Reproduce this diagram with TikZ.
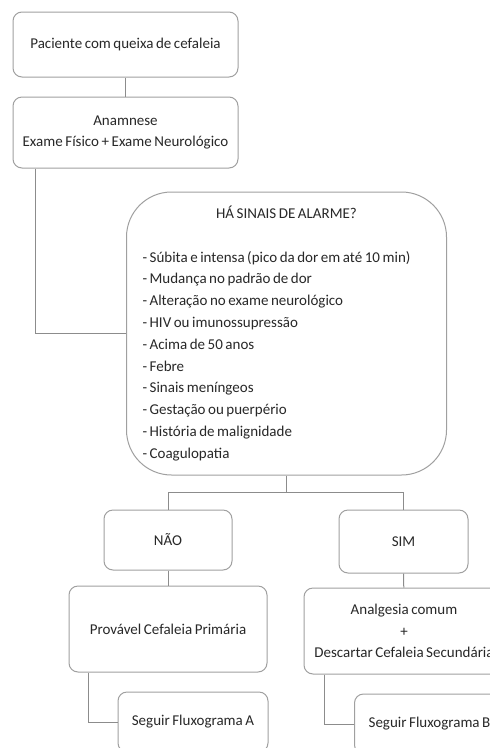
\documentclass[tikz,border=0pt]{standalone}
\usepackage{fontspec}
\setmainfont{Carlito}[WordSpace=0.75]
\usepackage{xcolor}
\usepackage{tikz}
\usetikzlibrary{positioning}
\definecolor{linegray}{RGB}{140,140,140}
\definecolor{boxgray}{RGB}{160,160,160}
\definecolor{textgray}{RGB}{40,40,40}

\begin{document}
\begin{tikzpicture}[
  x=1pt, y=-1pt,
  box/.style={rectangle, rounded corners=9pt, draw=boxgray, fill=white, line width=1pt,
              align=center, inner sep=0pt, text=textgray,
              font=\fontsize{15}{21.8}\selectfont},
  line/.style={draw=linegray, line width=1pt}
]
\clip (0,0) rectangle (490,748);

\node[box, minimum width=225pt, minimum height=65pt] (pac) at (125.5,44.5) {Paciente com queixa de cefaleia};

\node[box, minimum width=225pt, minimum height=71pt] (anam) at (125.5,132.5) {Anamnese\\Exame Físico + Exame Neurológico};

% lista de sinais de alarme
\node[box, rounded corners=45pt, minimum width=320pt, minimum height=283pt,
      text width=288pt, align=left] (alarme) at (286.5,333.5)
  {\spaceskip=0pt \xspaceskip=0pt
   \makebox[\linewidth]{HÁ SINAIS DE ALARME?}\\[21.8pt]
   - Súbita e intensa (pico da dor em até 10 min)\\
   - Mudança no padrão de dor\\
   - Alteração no exame neurológico\\
   - HIV ou imunossupressão\\
   - Acima de 50 anos\\
   - Febre\\
   - Sinais meníngeos\\
   - Gestação ou puerpério\\
   - História de malignidade\\
   - Coagulopatia};

\node[box, minimum width=128pt, minimum height=60pt] (nao) at (168,540) {NÃO};
\node[box, minimum width=129pt, minimum height=63pt] (sim) at (403.5,541.5) {SIM};

\node[box, minimum width=198pt, minimum height=86pt] (prim) at (168,629) {Provável Cefaleia Primária};
\node[box, minimum width=200pt, minimum height=86pt] (analg) at (404,631) {Analgesia comum\\+\\Descartar Cefaleia Secundária};

\node[box, minimum width=150pt, minimum height=60pt] (fluxA) at (193,722) {Seguir Fluxograma A};
\node[box, minimum width=150pt, minimum height=60pt] (fluxB) at (429.5,724) {Seguir Fluxograma B};

\draw[line] (pac) -- (anam);
\draw[line] ([xshift=23pt]anam.south west) |- (alarme.west);
\draw[line] (alarme.south) -- ++(0,17) coordinate (split);
\draw[line] (split) -| (nao.north);
\draw[line] (split) -| (sim.north);
\draw[line] (nao) -- (prim);
\draw[line] (sim) -- (analg);
\draw[line] ([xshift=20pt]prim.south west) |- (fluxA.west);
\draw[line] ([xshift=21pt]analg.south west) |- (fluxB.west);

\end{tikzpicture}
\end{document}
